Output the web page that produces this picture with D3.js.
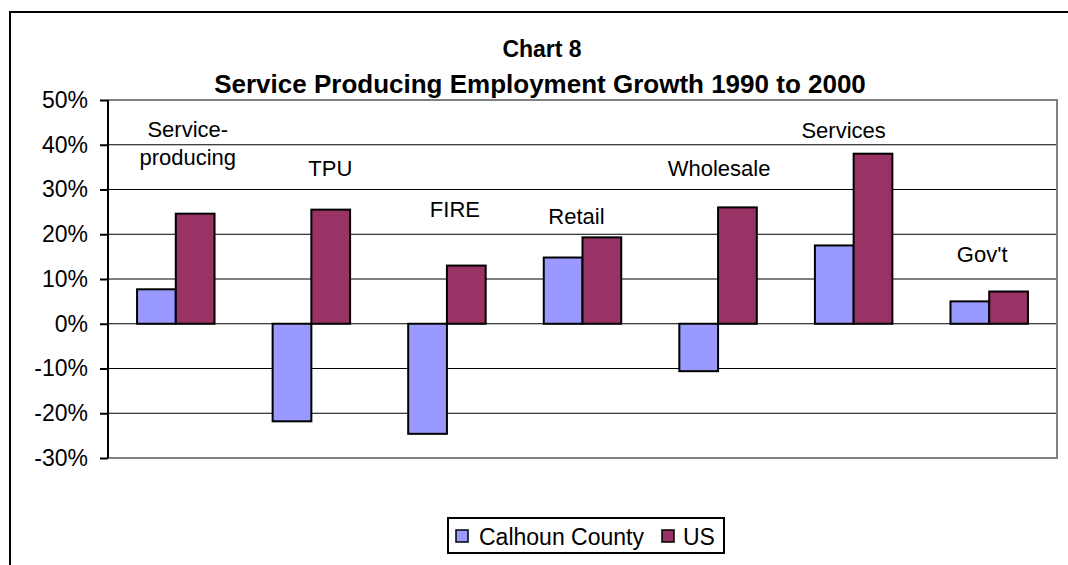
<!doctype html>
<html lang="en">
<head>
<meta charset="utf-8">
<title>Chart 8</title>
<script src="https://d3js.org/d3.v7.min.js"></script>
<style>
  body { margin: 0; background: #fff; }
  text { font-family: "Liberation Sans", Arial, sans-serif; fill: #000; }
</style>
</head>
<body>
<svg width="1068" height="565"></svg>
<script>
// data
var categories = ["Service-producing", "TPU", "FIRE", "Retail", "Wholesale", "Services", "Gov't"];
var labelLines = [["Service-", "producing"], ["TPU"], ["FIRE"], ["Retail"], ["Wholesale"], ["Services"], ["Gov't"]];
var labelAt = [41.7, 33.1, 23.8, 22.3, 33.1, 41.6, 13.8];   // label baseline, in % units
var series = ["Calhoun County", "US"];
var calhoun = [7.7, -21.8, -24.6, 14.8, -10.6, 17.5, 5.0];
var us = [24.6, 25.5, 13.0, 19.3, 26.0, 38.0, 7.2];
var yTicks = [-30, -20, -10, 0, 10, 20, 30, 40, 50];
var colors = ["#9999ff", "#993366"];

var svg = d3.select("svg");
var plotLeft = 108, plotRight = 1057, plotTop = 100, plotBottom = 458;
// the floating labels were hand placed, nudge them off centre a bit
var labelNudge = [12, 19, 8, -6, 1, -10, -7];

// outer chart frame
svg.append("rect").attr("x", 10).attr("y", 12).attr("width", 1100).attr("height", 600)
  .attr("fill", "none").attr("stroke", "#000").attr("stroke-width", 2);

var y = d3.scaleLinear().domain([-30, 50]).range([plotBottom, plotTop]);
var x0 = d3.scaleBand().domain(categories).range([plotLeft, plotRight]);
var x1 = d3.scaleBand().domain(series).range([0, x0.bandwidth()]).paddingOuter(0.75);

// gridlines
svg.append("g").selectAll("line").data(yTicks.filter(function(d) { return d > -30 && d < 50; }))
  .enter().append("line")
  .attr("x1", plotLeft).attr("x2", plotRight)
  .attr("y1", function(d) { return y(d); }).attr("y2", function(d) { return y(d); })
  .attr("stroke", "#000").attr("stroke-width", 1);

// plot border (grey top/right/bottom)
svg.append("path")
  .attr("d", "M" + plotLeft + "," + y(50) + "H" + plotRight + "V" + y(-30) + "H" + plotLeft)
  .attr("fill", "none").attr("stroke", "#808080").attr("stroke-width", 2);

var rows = categories.map(function(c, i) { return { cat: c, vals: [calhoun[i], us[i]] }; });

var groups = svg.append("g").selectAll("g").data(rows).enter().append("g")
  .attr("transform", function(d) { return "translate(" + x0(d.cat) + ",0)"; });

groups.selectAll("rect").data(function(d) { return d.vals.map(function(v, j) { return { s: series[j], v: v, j: j }; }); })
  .enter().append("rect")
  .attr("x", function(d) { return x1(d.s); })
  .attr("width", x1.bandwidth())
  .attr("y", function(d) { return y(Math.max(0, d.v)); })
  .attr("height", function(d) { return Math.abs(y(d.v) - y(0)); })
  .attr("fill", function(d) { return colors[d.j]; })
  .attr("stroke", "#000").attr("stroke-width", 2);

// category labels floating above bars
groups.each(function(d, i) {
  var cx = x0.bandwidth() / 2 + labelNudge[i];
  var t = d3.select(this).append("text")
    .attr("x", cx).attr("y", y(labelAt[i]))
    .attr("text-anchor", "middle").style("font-size", "22px");
  labelLines[i].forEach(function(l, k) {
    t.append("tspan").attr("x", cx)
      .attr("dy", k == 0 ? 0 : 28).text(l);
  });
});

// y axis
var yAxis = svg.append("g").attr("transform", "translate(" + plotLeft + ",0)")
  .call(d3.axisLeft(y).tickValues(yTicks).tickSize(8).tickPadding(12)
    .tickFormat(function(d) { return d + "%"; }));
yAxis.select(".domain").attr("stroke", "#000").attr("stroke-width", 2).attr("d", "M0," + plotTop + "V" + plotBottom);
yAxis.selectAll(".tick line").attr("stroke", "#000").attr("stroke-width", 2);
yAxis.selectAll(".tick text").style("font-size", "23px").attr("fill", "#000")
  .style("font-family", "Liberation Sans, Arial, sans-serif");

// title
svg.append("text").attr("x", 542).attr("y", 57).attr("text-anchor", "middle")
  .style("font-size", "23px").style("font-weight", "bold").text("Chart 8");
svg.append("text").attr("x", 540).attr("y", 93).attr("text-anchor", "middle")
  .style("font-size", "26px").style("font-weight", "bold")
  .text("Service Producing Employment Growth 1990 to 2000");

// legend
var lg = svg.append("g");
lg.append("rect").attr("x", 448).attr("y", 518).attr("width", 276).attr("height", 35)
  .attr("fill", "#fff").attr("stroke", "#000").attr("stroke-width", 2);
var legendX = [456, 662], textX = [479, 683];
series.forEach(function(s, i) {
  lg.append("rect").attr("x", legendX[i]).attr("y", 530).attr("width", 12).attr("height", 12)
    .attr("fill", colors[i]).attr("stroke", "#000").attr("stroke-width", 1.5);
  lg.append("text").attr("x", textX[i]).attr("y", 545).style("font-size", "23px").text(s);
});
</script>
</body>
</html>
